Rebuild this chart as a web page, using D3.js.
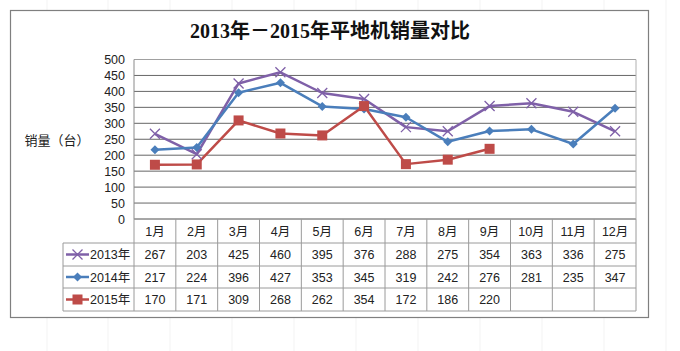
<!DOCTYPE html>
<html><head><meta charset="utf-8">
<script src="https://cdn.jsdelivr.net/npm/d3@7/dist/d3.min.js"></script>
<style>body{margin:0;background:#fff}svg{display:block}</style>
</head><body>
<script>
const months = ["1月","2月","3月","4月","5月","6月","7月","8月","9月","10月","11月","12月"];
const seriesNames = ["2013年","2014年","2015年"];
const v2013 = [267,203,425,460,395,376,288,275,354,363,336,275];
const v2014 = [217,224,396,427,353,345,319,242,276,281,235,347];
const v2015 = [170,171,309,268,262,354,172,186,220,null,null,null];
const yTicks = [0,50,100,150,200,250,300,350,400,450,500];
const titleText = "2013年－2015年平地机销量对比";
const yTitle = "销量（台）";

(function(){
const series = [
  {name: seriesNames[0], values: v2013, color: "#7f60a8", marker: "x"},
  {name: seriesNames[1], values: v2014, color: "#4a7ebb", marker: "diamond"},
  {name: seriesNames[2], values: v2015, color: "#be4b48", marker: "square"}
];

const W = 680, H = 351;
const svg = d3.select("body").append("svg").attr("width", W).attr("height", H);

const sheetX = [47, 108, 170, 232, 294, 356, 418, 480, 542, 604, 666];
sheetX.forEach(x => svg.append("line").attr("x1", x).attr("x2", x).attr("y1", 0).attr("y2", H).attr("stroke", "#f3f3f3"));

svg.append("rect").attr("x", 10.5).attr("y", 10.5).attr("width", 638).attr("height", 307)
  .attr("fill", "#fff").attr("stroke", "#7f7f7f").attr("stroke-width", 1.2);

svg.append("text").attr("x", 330).attr("y", 38).attr("text-anchor", "middle")
  .attr("font-family", "'Liberation Serif','Noto Sans CJK SC',serif").attr("font-weight", "bold")
  .attr("font-size", 20).attr("fill", "#111").text(titleText);

const pLeft = 134, pRight = 636, pTop = 59.5, pBottom = 219;
const x = d3.scaleBand().domain(months).range([pLeft, pRight]);
const y = d3.scaleLinear().domain([0, 500]).range([pBottom, pTop]);

const g = svg.append("g");
yTicks.forEach(t => {
  g.append("line").attr("x1", pLeft).attr("x2", pRight).attr("y1", y(t)).attr("y2", y(t))
    .attr("stroke", t === 500 ? "#a0a0a0" : "#666").attr("stroke-width", 1);
});
g.append("line").attr("x1", pLeft).attr("x2", pLeft).attr("y1", pTop).attr("y2", pBottom).attr("stroke", "#8a8a8a");
g.append("line").attr("x1", pRight).attr("x2", pRight).attr("y1", pTop).attr("y2", pBottom).attr("stroke", "#b0b0b0");

const yAxis = d3.axisLeft(y).tickValues(yTicks).tickSize(0).tickPadding(9);
const ya = svg.append("g").attr("transform", `translate(${pLeft},0)`).call(yAxis);
ya.select(".domain").remove();
ya.selectAll("text").attr("font-family", "'Liberation Sans',sans-serif").attr("font-size", 12.5).attr("fill", "#222");

svg.append("text").attr("x", 57).attr("y", 145).attr("text-anchor", "middle")
  .attr("font-family", "'Noto Sans CJK SC',sans-serif").attr("font-size", 13).attr("fill", "#222").text(yTitle);

const rowTops = [219, 243, 266, 288, 311];
const legendLeft = 63;
const tg = svg.append("g");
const tableColor = "#9a9a9a";
rowTops.forEach((ry, i) => {
  tg.append("line").attr("x1", i === 0 ? pLeft : legendLeft).attr("x2", pRight).attr("y1", ry).attr("y2", ry).attr("stroke", tableColor);
});
months.forEach(m => {
  tg.append("line").attr("x1", x(m)).attr("x2", x(m)).attr("y1", pBottom).attr("y2", rowTops[4]).attr("stroke", tableColor);
});
tg.append("line").attr("x1", pRight).attr("x2", pRight).attr("y1", pBottom).attr("y2", rowTops[4]).attr("stroke", tableColor);
tg.append("line").attr("x1", legendLeft).attr("x2", legendLeft).attr("y1", rowTops[1]).attr("y2", rowTops[4]).attr("stroke", tableColor);

const fontT = "'Liberation Sans','Noto Sans CJK SC',sans-serif";
months.forEach(m => {
  tg.append("text").attr("x", x(m) + x.bandwidth() / 2).attr("y", 236).attr("text-anchor", "middle")
    .attr("font-family", fontT).attr("font-size", 12.5).attr("fill", "#222").text(m);
});

function drawMarker(sel, type, cx, cy, color) {
  if (type === "x") {
    const s = 5;
    sel.append("path").attr("d", `M${cx-s},${cy-s}L${cx+s},${cy+s}M${cx-s},${cy+s}L${cx+s},${cy-s}`)
      .attr("stroke", color).attr("stroke-width", 1.3).attr("fill", "none");
  } else if (type === "diamond") {
    const s = 4.5;
    sel.append("path").attr("d", `M${cx},${cy-s}L${cx+s},${cy}L${cx},${cy+s}L${cx-s},${cy}Z`).attr("fill", color);
  } else {
    const s = 5;
    sel.append("rect").attr("x", cx - s).attr("y", cy - s).attr("width", 2 * s).attr("height", 2 * s).attr("fill", color);
  }
}

series.forEach((s, si) => {
  const cy = (rowTops[si + 1] + rowTops[si + 2]) / 2;
  tg.append("line").attr("x1", 66).attr("x2", 89).attr("y1", cy).attr("y2", cy).attr("stroke", s.color).attr("stroke-width", 2.5);
  drawMarker(tg, s.marker, 77.5, cy, s.color);
  tg.append("text").attr("x", 90).attr("y", cy + 4.5).attr("font-family", fontT).attr("font-size", 12.5).attr("fill", "#222").text(s.name);
  s.values.forEach((v, i) => {
    if (v == null) return;
    tg.append("text").attr("x", x(months[i]) + x.bandwidth() / 2).attr("y", cy + 4.5).attr("text-anchor", "middle")
      .attr("font-family", fontT).attr("font-size", 12.5).attr("fill", "#222").text(v);
  });
});

const line = d3.line().defined(d => d.v != null).x(d => x(d.m) + x.bandwidth() / 2).y(d => y(d.v));
series.forEach(s => {
  const data = months.map((m, i) => ({m, v: s.values[i]}));
  svg.append("path").datum(data).attr("d", line).attr("fill", "none").attr("stroke", s.color).attr("stroke-width", 2.5)
    .attr("stroke-linejoin", "round");
});
series.forEach(s => {
  const mg = svg.append("g");
  s.values.forEach((v, i) => {
    if (v == null) return;
    drawMarker(mg, s.marker, x(months[i]) + x.bandwidth() / 2, y(v), s.color);
  });
});
})();
</script>
</body></html>
